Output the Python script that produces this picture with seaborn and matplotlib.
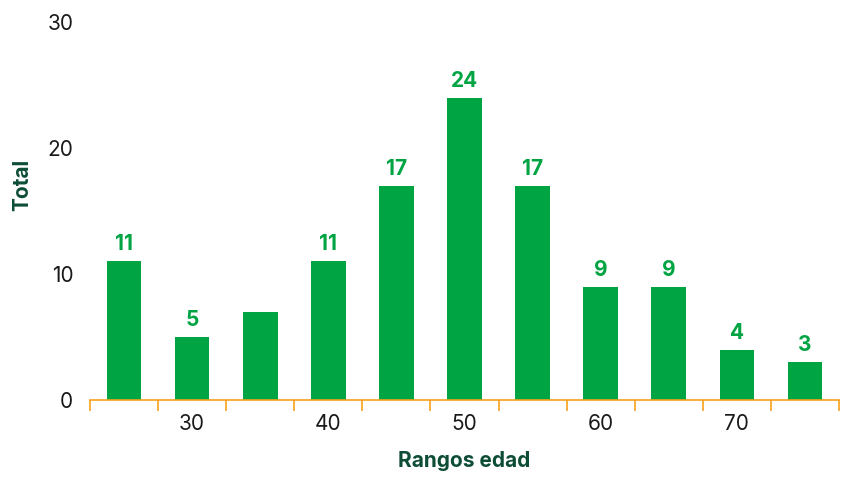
import matplotlib
matplotlib.use("Agg")
import matplotlib.pyplot as plt
import seaborn as sns
import pandas as pd
import numpy as np
from matplotlib.ticker import FixedLocator

edad = [25, 30, 35, 40, 45, 50, 55, 60, 65, 70, 75]
total = [11, 5, 7, 11, 17, 24, 17, 9, 9, 4, 3]
etiquetas = ["11", "5", "", "11", "17", "24", "17", "9", "9", "4", "3"]
xticks = [30, 40, 50, 60, 70]
yticks = [0, 10, 20, 30]

df = pd.DataFrame({"edad": edad, "total": total})

sns.set_theme(style="white")
plt.rcParams['font.family'] = ['Inter', 'DejaVu Sans']

GREEN = "#00A443"
DARK = "#0D4D36"
ORANGE = "#F7A21B"

fig = plt.figure(figsize=(8.51, 4.84), dpi=100)
ax = fig.add_axes([90/851, 1-400/484, (839-90)/851, (400-22)/484])

sns.barplot(data=df, x="edad", y="total", native_scale=True, color=GREEN,
            width=0.51, saturation=1, ax=ax, edgecolor="none")

for b, lab in zip(ax.patches, etiquetas):
    if lab:
        ax.annotate(lab, (b.get_x() + b.get_width()/2, b.get_height()),
                    xytext=(0, 5), textcoords="offset points",
                    ha="center", va="bottom", color=GREEN,
                    fontsize=15, fontweight="bold")

ax.set_xlim(22.5, 77.5)
ax.set_ylim(0, 30)
ax.set_yticks(yticks)
ax.set_xticks(xticks)
ax.xaxis.set_minor_locator(FixedLocator(np.arange(22.5, 78, 5)))
ax.tick_params(axis="x", which="major", bottom=False, length=0, pad=10, labelsize=15, labelcolor="#1a1a1a")
ax.tick_params(axis="x", which="minor", bottom=True, length=8, width=1.2, color=ORANGE, direction="out")
ax.tick_params(axis="y", left=False, length=0, pad=12, labelsize=15, labelcolor="#1a1a1a")

for s in ["top", "right", "left"]:
    ax.spines[s].set_visible(False)
ax.spines["bottom"].set_color(ORANGE)
ax.spines["bottom"].set_linewidth(1.2)

ax.set_xlabel("Rangos edad", fontsize=15, fontweight="bold", color=DARK, labelpad=12)
ax.set_ylabel("Total", fontsize=15, fontweight="bold", color=DARK)
ax.yaxis.set_label_coords(-0.077, 0.569)

fig.savefig("out.png", dpi=100)
